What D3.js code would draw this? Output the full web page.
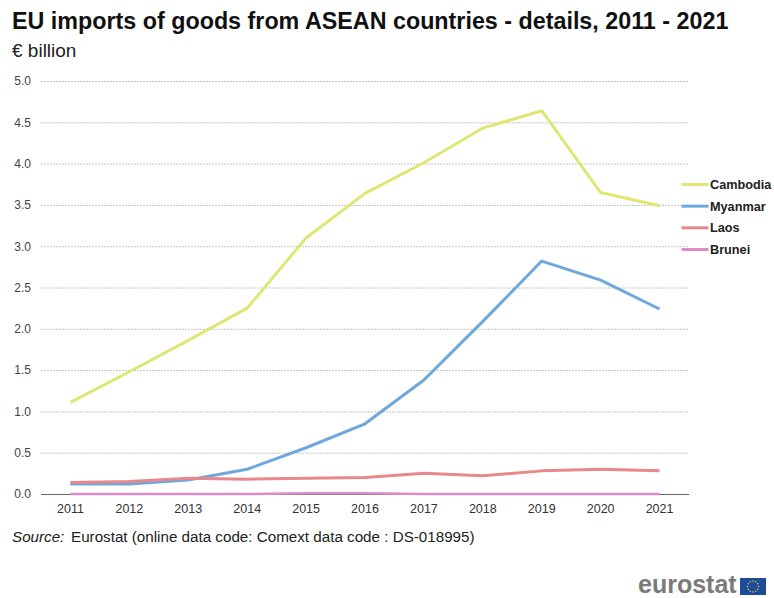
<!DOCTYPE html>
<html>
<head>
<meta charset="utf-8">
<script src="https://cdn.jsdelivr.net/npm/d3@7/dist/d3.min.js"></script>
<style>
html, body { margin: 0; padding: 0; background: #fff; }
svg { display: block; font-family: "Liberation Sans", Arial, sans-serif; }
</style>
</head>
<body>
<svg id="chart" width="774" height="598"></svg>
<script>
const years = [2011, 2012, 2013, 2014, 2015, 2016, 2017, 2018, 2019, 2020, 2021];
const cambodia = [1.11, 1.48, 1.86, 2.25, 3.10, 3.64, 4.01, 4.43, 4.64, 3.65, 3.49];
const myanmar = [0.12, 0.12, 0.17, 0.30, 0.56, 0.85, 1.38, 2.09, 2.82, 2.59, 2.24];
const laos = [0.14, 0.15, 0.19, 0.18, 0.19, 0.20, 0.25, 0.22, 0.28, 0.30, 0.28];
const brunei = [0.00, 0.00, 0.00, 0.00, 0.01, 0.01, 0.00, 0.00, 0.00, 0.00, 0.00];
const seriesNames = ["Cambodia", "Myanmar", "Laos", "Brunei"];
const seriesColors = ["#e0e673", "#6fa8dc", "#e8878c", "#dc8cc8"];
const seriesWidths = [3, 3, 3, 2.5];
const seriesValues = [cambodia, myanmar, laos, brunei];
const yTicks = [0, 0.5, 1, 1.5, 2, 2.5, 3, 3.5, 4, 4.5, 5];

const svg = d3.select("#chart");
const plotLeft = 41, plotRight = 689, plotTop = 81, plotBottom = 494;

const x = d3.scaleBand().domain(years).range([plotLeft, plotRight]);
const y = d3.scaleLinear().domain([0, 5]).range([plotBottom, plotTop]);
const cx = d => x(d) + x.bandwidth() / 2;

// Dotted horizontal gridlines with the value labels to their left
const yAxis = d3.axisLeft(y).tickValues(yTicks).tickSize(0).tickPadding(10)
  .tickFormat(d3.format(".1f"));
const yG = svg.append("g").attr("transform", `translate(${plotLeft},0)`).call(yAxis);
yG.select(".domain").remove();
yG.selectAll("text").attr("font-size", 12).attr("font-family", "Liberation Sans").attr("fill", "#444");
yG.selectAll(".tick").append("line")
  .attr("x2", plotRight - plotLeft)
  .attr("stroke", d => d === 0 ? "#666" : "#c4c4c4")
  .attr("stroke-width", 1)
  .attr("stroke-dasharray", d => d === 0 ? null : "2,1");

// Year labels under the baseline
const xAxis = d3.axisBottom(x).tickSize(0).tickPadding(10);
const xG = svg.append("g").attr("transform", `translate(0,${plotBottom})`).call(xAxis);
xG.select(".domain").remove();
xG.selectAll("text").attr("font-size", 12.5).attr("font-family", "Liberation Sans").attr("fill", "#333");

// One line per country, last series on top
const line = d3.line().x((d, i) => cx(years[i])).y(d => y(d));
svg.append("g").selectAll("path").data(seriesValues).join("path")
  .attr("d", line)
  .attr("fill", "none")
  .attr("stroke", (d, i) => seriesColors[i])
  .attr("stroke-width", (d, i) => seriesWidths[i])
  .attr("stroke-linejoin", "round");

// Legend at the right of the plot
const legendY = d3.scalePoint().domain(seriesNames).range([184.5, 249.5]);
const legend = svg.append("g").selectAll("g").data(seriesNames).join("g")
  .attr("transform", d => `translate(681.5,${legendY(d)})`);
legend.append("line").attr("x2", 27).attr("stroke-width", 3)
  .attr("stroke", (d, i) => seriesColors[i]);
legend.append("text").attr("x", 28.5).attr("dy", "0.35em")
  .attr("font-size", 12.7).attr("font-weight", "bold").attr("fill", "#222").text(d => d);

// Title, unit and source
svg.append("text").attr("x", 12).attr("y", 29).attr("font-size", 23.3).attr("font-weight", "bold")
  .attr("fill", "#111").text("EU imports of goods from ASEAN countries - details, 2011 - 2021");
svg.append("text").attr("x", 12).attr("y", 56.5).attr("font-size", 19).attr("fill", "#222").text("€ billion");
const source = svg.append("text").attr("y", 542).attr("font-size", 15.2).attr("fill", "#222");
source.append("tspan").attr("x", 12).attr("font-style", "italic").text("Source:");
source.append("tspan").attr("x", 71).text("Eurostat (online data code: Comext data code : DS-018995)");

// Eurostat wordmark and flag
svg.append("text").attr("x", 638).attr("y", 592.5).attr("font-size", 25).attr("font-weight", "bold")
  .attr("fill", "#7a7a7a").text("eurostat");
const flag = svg.append("g").attr("transform", "translate(740,578)");
flag.append("rect").attr("width", 26).attr("height", 17).attr("fill", "#1f4b9b");
const stars = d3.range(12).map(i => i * 30 * Math.PI / 180);
flag.selectAll("circle").data(stars).join("circle")
  .attr("cx", a => 13 + 5.5 * Math.cos(a))
  .attr("cy", a => 8.5 + 5.5 * Math.sin(a))
  .attr("r", 0.8).attr("fill", "#d8c53a");
</script>
</body>
</html>
